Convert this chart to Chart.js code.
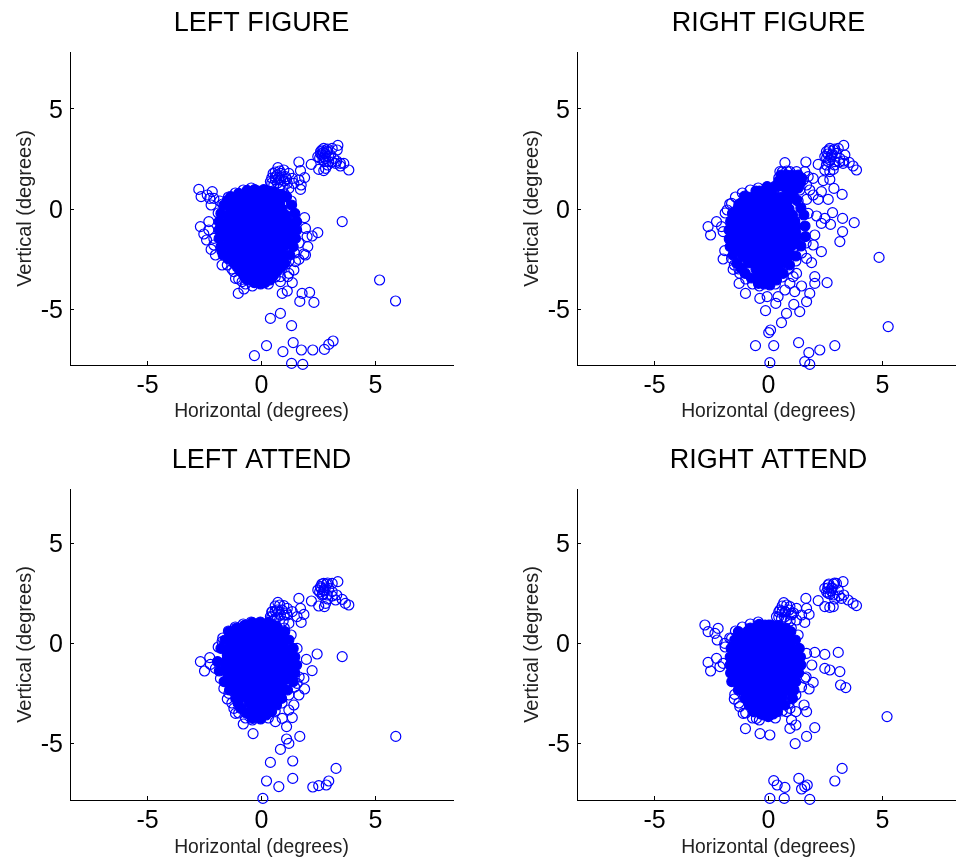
<!DOCTYPE html>
<html>
<head>
<meta charset="utf-8">
<title>Eye position scatter</title>
<script src="https://cdn.jsdelivr.net/npm/chart.js@4/dist/chart.umd.min.js"></script>
<style>
    html, body { margin: 0; padding: 0; background: #fff; overflow: hidden; width: 956px; height: 863px; }
    canvas { position: absolute; }
</style>
</head>
<body>
<canvas id="leftFigure" width="507" height="430" style="left:0;top:0"></canvas>
<canvas id="rightFigure" width="507" height="430" style="left:507px;top:0"></canvas>
<canvas id="leftAttend" width="507" height="426" style="left:0;top:437px"></canvas>
<canvas id="rightAttend" width="507" height="426" style="left:507px;top:437px"></canvas>
<script>
const tickValues = [-5, 0, 5];
const xLabel = 'Horizontal (degrees)';
const yLabel = 'Vertical (degrees)';

// solid middle of the blob, same for all four panels (single points can't be read there)
const coreY = [0.9, 0.6, 0.3, 0, -0.3, -0.6, -0.9, -1.2, -1.5, -1.8, -2.1, -2.4, -2.7, -3, -3.3, -3.6];
const coreX = [
    [-0.4, -0.15, 0.1],
    [-0.9, -0.65, -0.4, -0.15, 0.1, 0.35, 0.6, 0.8],
    [-1.2, -0.95, -0.7, -0.45, -0.2, 0.05, 0.3, 0.55, 0.8],
    [-1.35, -1.1, -0.85, -0.6, -0.35, -0.1, 0.15, 0.4, 0.65, 0.9],
    [-1.45, -1.2, -0.95, -0.7, -0.45, -0.2, 0.05, 0.3, 0.55, 0.8, 1.05],
    [-1.5, -1.25, -1, -0.75, -0.5, -0.25, 0, 0.25, 0.5, 0.75, 1, 1.15],
    [-1.55, -1.3, -1.05, -0.8, -0.55, -0.3, -0.05, 0.2, 0.45, 0.7, 0.95, 1.2],
    [-1.55, -1.3, -1.05, -0.8, -0.55, -0.3, -0.05, 0.2, 0.45, 0.7, 0.95, 1.2],
    [-1.5, -1.25, -1, -0.75, -0.5, -0.25, 0, 0.25, 0.5, 0.75, 1, 1.2],
    [-1.45, -1.2, -0.95, -0.7, -0.45, -0.2, 0.05, 0.3, 0.55, 0.8, 1.05],
    [-1.3, -1.05, -0.8, -0.55, -0.3, -0.05, 0.2, 0.45, 0.7, 0.9],
    [-1.1, -0.85, -0.6, -0.35, -0.1, 0.15, 0.4, 0.65, 0.85],
    [-0.9, -0.65, -0.4, -0.15, 0.1, 0.35, 0.6],
    [-0.55, -0.3, -0.05, 0.2, 0.4],
    [-0.4, -0.15, 0.1, 0.25],
    [-0.2, 0.05]
];

// filled edge of each blob
const rimLeftFigure = [[-0.63,0.93],[-0.3,0.97],[0.1,0.97],[0.5,0.85],[0.85,0.72],[1.1,0.62],[1.32,0.2],[1.46,-0.22],[1.54,-0.63],[1.54,-1.05],[1.49,-1.47],[1.39,-1.88],[1.24,-2.3],[1.02,-2.72],[0.84,-2.92],[0.66,-3.13],[0.5,-3.35],[0.37,-3.55],[0.15,-3.68],[-0.04,-3.75],[-0.32,-3.68],[-0.61,-3.55],[-0.76,-3.35],[-0.91,-3.13],[-1.05,-2.92],[-1.2,-2.72],[-1.45,-2.5],[-1.68,-2.3],[-1.74,-2.1],[-1.78,-1.88],[-1.86,-1.47],[-1.86,-1.05],[-1.86,-0.63],[-1.78,-0.22],[-1.64,0.2],[-1.5,0.42],[-1.35,0.62],[-1,0.78]];
const rimRightFigure = [[-0.06,1.12],[0.35,1.1],[0.79,1.03],[1.03,0.75],[1.23,0.45],[1.42,0.05],[1.55,-0.3],[1.6,-0.85],[1.62,-1.38],[1.42,-1.85],[1.2,-2.35],[0.92,-2.8],[0.64,-3.22],[0.35,-3.55],[0.06,-3.8],[-0.2,-3.75],[-0.44,-3.72],[-0.75,-3.45],[-1.02,-3.22],[-1.2,-2.97],[-1.39,-2.72],[-1.55,-2.3],[-1.68,-1.88],[-1.72,-1.5],[-1.73,-1.05],[-1.66,-0.62],[-1.58,-0.22],[-1.3,0.23],[-1.04,0.65],[-0.55,0.9],
    [0.55,1.7],[0.8,1.7],[1.05,1.7],[1.3,1.7],[1.45,1.55],[0.45,1.4],[0.7,1.4],[0.95,1.4],[1.2,1.4],[1.4,1.3],[0.3,1.15],[0.6,1.15],[0.85,1.15],[1.1,1.15],[1.3,1.05],[1.1,0.9]];
const rimLeftAttend = [[-0.41,1.02],[-0.75,0.88],[-1.1,0.75],[-1.42,0.57],[-1.6,0.15],[-1.78,-0.27],[-1.93,-0.93],[-1.85,-1.4],[-1.64,-1.93],[-1.4,-2.35],[-1.13,-2.77],[-1.02,-3.02],[-0.91,-3.27],[-0.65,-3.52],[-0.39,-3.77],[-0.04,-3.8],[0.2,-3.6],[0.44,-3.43],[0.66,-3.1],[0.88,-2.77],[1.14,-2.35],[1.39,-1.93],[1.46,-1.5],[1.54,-1.1],[1.46,-0.7],[1.39,-0.27],[1.2,0.15],[1.02,0.57],[0.65,0.85],[0.32,1.03],[-0.05,1.05]];
const rimRightAttend = [[-0.41,0.93],[-0.8,0.75],[-1.32,0.57],[-1.48,0.15],[-1.64,-0.27],[-1.68,-0.7],[-1.68,-1.1],[-1.66,-1.5],[-1.61,-1.93],[-1.32,-2.35],[-1.02,-2.77],[-0.84,-3.1],[-0.66,-3.43],[-0.33,-3.55],[-0.01,-3.68],[0.2,-3.55],[0.39,-3.43],[0.72,-3.1],[1.05,-2.77],[1.12,-2.35],[1.2,-1.93],[1.32,-1.5],[1.42,-1.1],[1.4,-0.7],[1.35,-0.27],[1.18,0.15],[0.98,0.57],[0.75,0.75],[0.42,0.87],[0,0.9]];

// open circles that show in every panel: upper right patch, upper and lower edge of the blob
const ringsTopRight = [[2.6,2.75],[2.8,2.75],[2.65,2.95],[2.9,3],[2.55,2.55],[2.75,2.6],[3.1,2.35],[2.9,2.2],[3.3,2.4],[2.85,2.95],[2.7,2.45]];
const ringsLowerEdge = [[-1.5,-2.8],[-1.3,-3],[-1,-3.5],[-0.7,-3.75],[-0.4,-3.85],[0.3,-3.75],[0.6,-3.4],[0.9,-3],[1.2,-2.6],[1.45,-2.2],[1.65,-1.7]];
const ringsUpperEdge = [[-1.45,0.6],[-1.15,0.8],[-0.8,0.95],[-0.45,1.05],[-1.7,0.25],[-1.9,-0.2],[1.3,0.4],[1,0.75]];
const ringsUpperMid = [[0.45,1.55],[0.6,1.85],[0.75,1.55],[0.9,1.65],[1,1.4],[0.7,1.3],[0.45,1.3],[0.95,1.1],[1.1,1.5],[0.6,1.6],[0.8,1.9]];

// open circles outside the blob
const ringsLeftFigure = [[3.35,3.18],[3.1,3.03],[2.73,3.03],[2.59,2.87],[2.47,2.62],[2.66,2.7],[2.88,2.87],[3.03,2.7],[2.81,2.53],[2.95,2.37],[3.17,2.53],[3.25,2.28],[3.46,2.28],[3.61,2.28],[3.83,1.95],[2.18,2.23],[2.51,1.98],[2.73,1.92],[2.81,2.03],[3.32,2.95],[2.7,2.82],[2.95,2.62],[2.76,2.37],[3.46,2.15],
    [0.72,2.07],[1.64,2.35],[0.98,1.95],[0.51,1.78],[0.69,1.7],[0.83,1.78],[0.39,1.37],[0.61,1.45],[0.83,1.45],[1.05,1.62],[1.2,1.78],[1.35,1.53],[1.13,1.28],[0.83,1.2],[0.54,1.2],[1.71,1.92],[1.89,1.57],[1.64,1.45],[1.74,1.2],[1.71,0.98],[1.42,1.28],[1.2,1.03],
    [-2.75,0.98],[-2.65,0.62],[-2.16,0.87],[-2.27,0.53],[-2.21,0.2],[-2.38,0.7],[-2.09,0.53],[-1.83,0.4],
    [-2.68,-0.88],[-2.31,-0.63],[-2.53,-1.25],[-2.41,-1.55],[-2.21,-2.02],[-2.31,-1.05],[-2.09,-1.47],[-2.09,-1.8],[-2.02,-2.3],[-1.73,-2.8],
    [-1.21,-3.13],[-1.14,-3.47],[-0.77,-4],[-1.02,-4.22],[-0.85,-3.63],
    [1.89,-0.43],[3.54,-0.63],[2.47,-1.18],[2.22,-1.35],[1.93,-0.97],[2,-1.38],[2.03,-1.88],[1.86,-2.25],[1.64,-2.52],[1.93,-2.3],[1.42,-3.05],[1.2,-3.22],[0.83,-3.63],[1.35,-3.68],[1.15,-3.38],[0.91,-4.22],[1.13,-4.1],[0.83,-3.38],[1.49,-2.63],
    [1.78,-4.22],[2.11,-4.17],[1.68,-4.62],[2.3,-4.67],[0.83,-5.22],[0.39,-5.47],[1.32,-5.83],
    [1.39,-6.68],[3.14,-6.6],[2.95,-6.77],[2.76,-7.02],[0.22,-6.83],[-0.31,-7.33],[0.94,-7.13],[1.75,-7.05],[2.25,-7.05],[1.32,-7.72],[1.81,-7.77],
    [5.18,-3.55],[5.88,-4.6]];
const ringsRightFigure = [[4.85,-2.42],[5.25,-5.88],
    [3.3,3.18],[3.06,3.03],[2.69,3.03],[2.54,2.87],[2.47,2.62],[2.76,2.7],[2.98,2.78],[3.13,2.53],[2.91,2.37],[2.62,2.37],[3.27,2.28],[3.54,2.33],[3.71,2.15],[3.86,1.95],[2.18,2.23],[2.47,1.95],[2.69,1.87],[2.84,1.98],[2.54,2.2],[3.35,2.7],
    [0.72,2.32],[1.64,2.35],[0.5,1.87],[0.94,1.87],[1.23,1.87],[1.59,1.87],[1.74,1.62],[1.52,1.45],[1.67,1.2],[1.37,0.95],
    [1.96,1.53],[2.4,1.42],[2.69,1.48],[2.87,1.03],[3.23,0.73],[2.32,0.87],[1.96,0.7],[2.18,0.48],[2.62,0.48],[1.67,0.48],[1.81,0.95],
    [1.74,-0.22],[2.11,-0.35],[2.47,-0.47],[2.81,-0.18],[2.32,-0.72],[2.72,-0.77],[3.25,-0.47],[3.76,-0.68],[3.25,-1.13],[3.13,-1.63],[2.03,-1.3],[2.32,-2.13],[1.89,-2.68],[1.96,-1.8],[1.67,-2.47],
    [-2.65,-0.88],[-2.28,-0.63],[-2.54,-1.3],[-2.06,-0.88],[-1.99,-1.13],[-1.81,-0.05],[-1.62,0.28],[-1.92,-2.08],[-1.99,-2.5],[-1.62,-2.47],[-1.55,-3.02],[-1.26,-3.22],[-1.29,-3.72],[-1.01,-4.22],
    [-0.38,-4.47],[-0.06,-4.38],[0.32,-4.72],[0.42,-4.38],[-0.13,-5.08],[0.79,-5.22],[1.11,-4.77],[1.37,-5.13],[0.57,-5.68],[0.09,-6.05],[0.01,-6.18],[-0.57,-6.83],[0.23,-6.83],[1.32,-6.68],[1.77,-7.18],[2.25,-7.05],[2.91,-6.83],[0.06,-7.68],[1.59,-7.63],[1.81,-7.77],
    [0.72,-4.05],[1.15,-4.13],[1.45,-3.85],[1.81,-4.22],[1.67,-4.63],[2.03,-3.38],[2.03,-3.72],[2.57,-3.68],[1.08,-3.38],[0.94,-3.72],[1.23,-3.22]];
const ringsLeftAttend = [[3.35,3.07],[3.1,2.98],[2.73,2.98],[2.59,2.82],[2.47,2.65],[2.73,2.65],[2.95,2.73],[3.1,2.57],[2.88,2.4],[2.66,2.4],[3.25,2.15],[3.54,2.18],[3.68,1.98],[3.83,1.9],[2.19,2.1],[2.51,1.85],[2.76,1.82],[2.81,1.98],[1.64,2.23],[0.72,2.03],
    [0.98,1.87],[0.47,1.57],[0.69,1.65],[1.13,1.73],[0.83,1.4],[0.61,1.23],[1.13,1.4],[1.35,1.57],[1.71,1.73],[1.86,1.43],[1.56,1.32],[1.74,1.03],[1.2,0.98],[0.39,1.32],
    [-2.68,-0.93],[-2.27,-0.73],[-2.5,-1.4],[-2.24,-1.07],[-2.02,-1.27],[-1.73,0.07],[-1.8,-1.77],[-1.43,-2.52],[-1.65,-2.27],[-1.21,-3.27],[-1.14,-3.52],[-0.8,-4.05],[-0.37,-4.53],
    [2.44,-0.55],[3.54,-0.68],[1.97,-0.82],[2.22,-1.38],[1.56,-0.27],[1.86,-1.77],[1.56,-2.02],[1.89,-2.3],[1.64,-2.6],[1.42,-3.1],[1.2,-3.35],[0.91,-3.77],[1.35,-3.73],[0.61,-3.93],[1.1,-4.18],
    [1.68,-4.67],[1.1,-4.8],[1.2,-5.02],[0.83,-5.32],[0.39,-5.97],[1.37,-5.9],[0.22,-6.9],[1.37,-6.77],[0.76,-7.18],[3.27,-6.27],[2.95,-6.9],[2.84,-7.1],[2.51,-7.13],[2.25,-7.2],[0.06,-7.77],[5.89,-4.67]];
const ringsRightAttend = [[5.2,-3.68],[3.27,3.07],[2.98,2.98],[2.62,2.9],[2.47,2.73],[2.76,2.73],[3.06,2.65],[2.84,2.4],[2.62,2.48],[3.2,2.23],[3.49,2.15],[3.71,1.98],[3.86,1.87],[2.18,2.12],[2.47,1.82],[2.69,1.78],[2.84,1.82],[1.64,2.23],[0.67,2.02],
    [0.94,1.82],[0.5,1.65],[0.72,1.57],[0.35,1.32],[0.57,1.23],[0.79,1.15],[1.01,1.48],[1.23,1.73],[1.45,1.4],[1.67,1.73],[1.78,1.43],[1.59,1.03],[1.23,1.15],
    [-2.79,0.9],[-2.65,0.57],[-2.21,0.73],[-2.35,0.48],[-2.25,0.15],[-1.92,-0.02],[-1.62,0.23],[-2.65,-0.97],[-2.28,-0.77],[-2.54,-1.4],[-2.13,-1.18],[-1.99,-1.02],
    [-1.48,-2.57],[-1.26,-3.18],[-1.11,-3.52],[-0.53,-3.77],[-1.01,-4.28],[-0.37,-4.53],[0.06,-4.6],
    [2.03,-0.47],[2.47,-0.57],[3.06,-0.47],[1.67,-0.52],[1.9,-1.1],[2.47,-1.27],[2.69,-1.35],[3.13,-1.43],[3.16,-2.1],[3.39,-2.23],[1.96,-1.97],[1.78,-2.3],[1.59,-1.77],
    [1.56,-3.1],[1.67,-3.43],[1.2,-3.43],[0.94,-3.27],[0.79,-3.43],[1.01,-3.85],[1.2,-4.1],[0.94,-4.27],[2.03,-4.23],[1.67,-4.67],[1.17,-5.03],
    [3.23,-6.27],[2.91,-6.9],[1.33,-6.77],[0.23,-6.88],[0.38,-7.1],[0.72,-7.22],[1.45,-7.3],[1.59,-7.18],[1.7,-7.1],[0.06,-7.77],[0.69,-7.77],[1.81,-7.82]];

const toPoints = pairs => pairs.map(p => ({ x: p[0], y: p[1] }));
const corePoints = coreY.flatMap((y, i) => coreX[i].map(x => ({ x: x, y: y })));
const sharedRings = ringsTopRight.concat(ringsLowerEdge, ringsUpperEdge, ringsUpperMid);

function makePanel(id, title, rim, rings, yMin, yMax, bottomSpace, xTitlePad) {
    const ctx = document.querySelector('#' + id).getContext('2d');
    const blue = '#0000ff';
    return new Chart(ctx, {
        type: 'scatter',
        data: {
            datasets: [
                { data: corePoints, backgroundColor: blue, borderColor: blue },
                { data: toPoints(rim), backgroundColor: blue, borderColor: blue },
                { data: toPoints(rings.concat(sharedRings)), backgroundColor: 'rgba(0,0,0,0)', borderColor: blue }
            ].map(ds => Object.assign(ds, { pointRadius: 5, pointBorderWidth: 1.2, pointHoverRadius: 5, clip: false }))
        },
        options: {
            responsive: false,
            animation: false,
            events: [],
            layout: { padding: { right: 54 } },
            plugins: {
                legend: { display: false },
                tooltip: { enabled: false },
                title: {
                    display: true,
                    text: title,
                    fullSize: false,
                    color: '#000',
                    font: { family: 'Liberation Sans', size: 27, weight: 'normal' },
                    padding: { top: 7.8, bottom: 11.8 }
                }
            },
            scales: {
                x: {
                    type: 'linear',
                    min: -8.4,
                    max: 8.4,
                    afterBuildTicks: s => { s.ticks = tickValues.map(v => ({ value: v })); },
                    afterFit: s => { s.height = bottomSpace; },
                    grid: { drawOnChartArea: false, tickLength: -4, tickColor: '#000' },
                    border: { color: '#000', width: 1 },
                    ticks: {
                        color: '#000',
                        padding: 10,
                        maxRotation: 0,
                        autoSkip: false,
                        font: { family: 'Liberation Sans', size: 25 },
                        callback: v => String(v)
                    },
                    title: {
                        display: true,
                        text: xLabel,
                        color: '#222',
                        font: { family: 'Liberation Sans', size: 19.3 },
                        padding: { top: 0, bottom: xTitlePad }
                    }
                },
                y: {
                    type: 'linear',
                    min: yMin,
                    max: yMax,
                    afterBuildTicks: s => { s.ticks = tickValues.map(v => ({ value: v })); },
                    afterFit: s => { s.width = 70; },
                    grid: { drawOnChartArea: false, tickLength: -4, tickColor: '#000' },
                    border: { color: '#000', width: 1 },
                    ticks: {
                        color: '#000',
                        padding: 11,
                        autoSkip: false,
                        labelOffset: 2,
                        font: { family: 'Liberation Sans', size: 25 },
                        callback: v => String(v)
                    },
                    title: {
                        display: true,
                        text: yLabel,
                        color: '#222',
                        font: { family: 'Liberation Sans', size: 20 },
                        padding: { top: 13, bottom: 0 }
                    }
                }
            }
        }
    });
}

makePanel('leftFigure', 'LEFT FIGURE', rimLeftFigure, ringsLeftFigure, -7.8, 7.85, 65, 7);
makePanel('rightFigure', 'RIGHT FIGURE', rimRightFigure, ringsRightFigure, -7.8, 7.85, 65, 7);
makePanel('leftAttend', 'LEFT ATTEND', rimLeftAttend, ringsLeftAttend, -7.85, 7.7, 63, 4);
makePanel('rightAttend', 'RIGHT ATTEND', rimRightAttend, ringsRightAttend, -7.85, 7.7, 63, 4);
</script>
</body>
</html>
